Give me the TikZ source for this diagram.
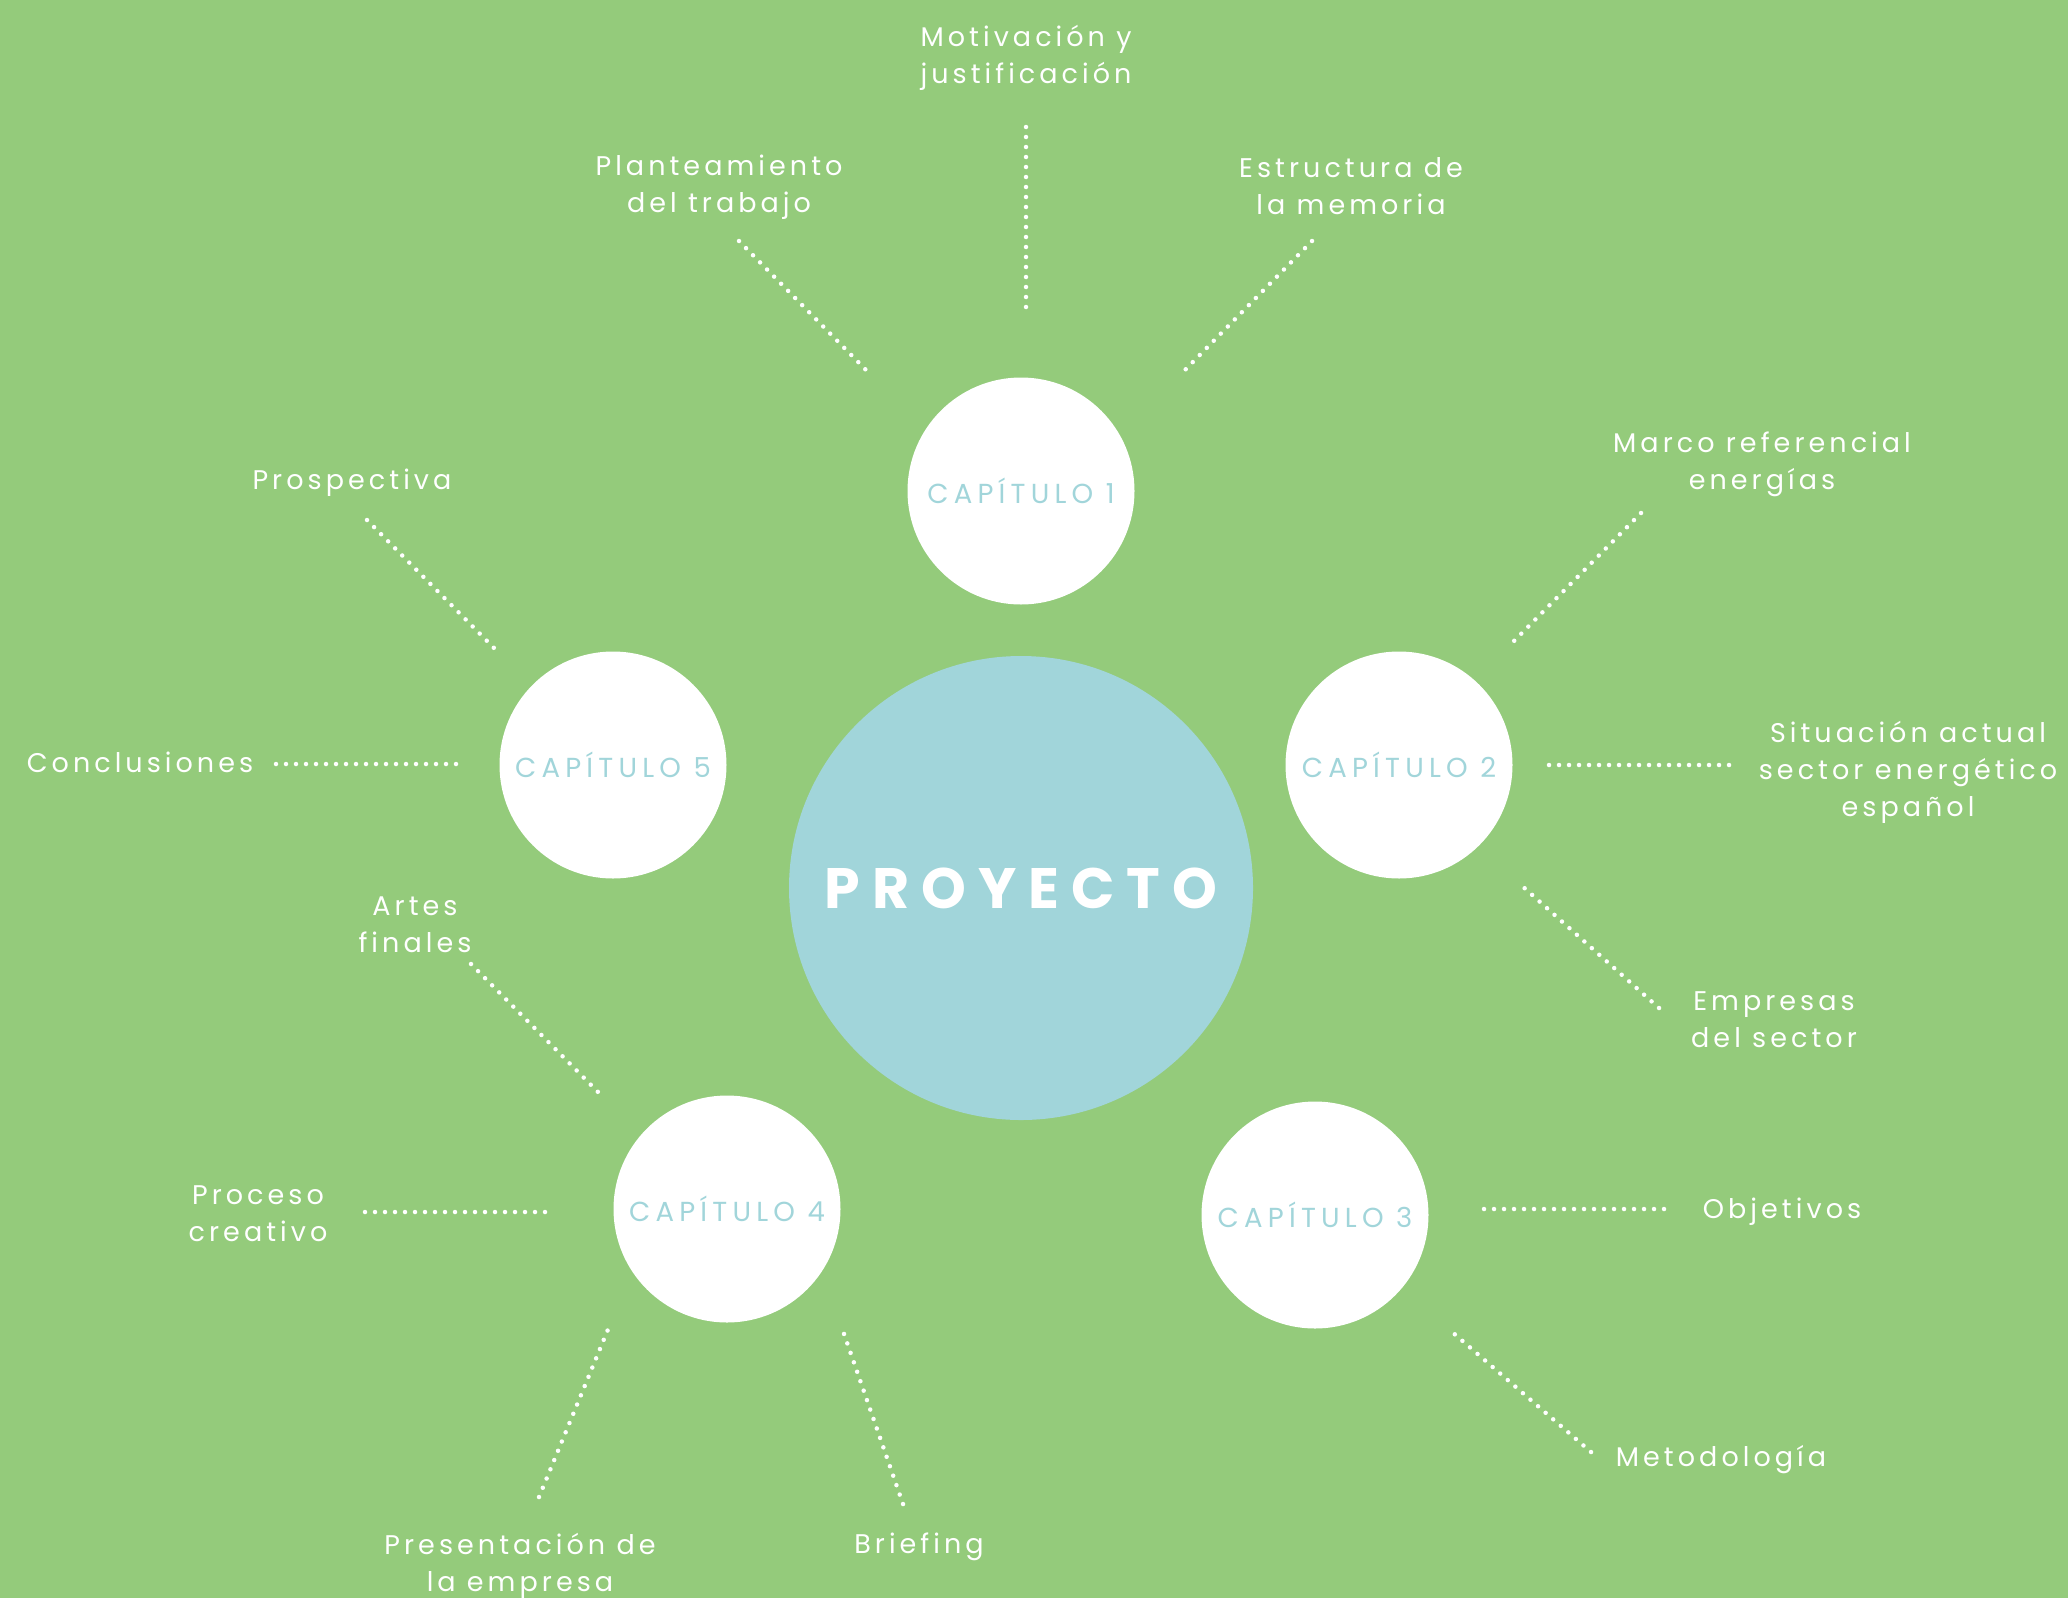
\documentclass[tikz,border=0pt]{standalone}
\usepackage{fontspec}
\setmainfont{Poppins}[LetterSpace=15]
\definecolor{fondo}{HTML}{94CB7B}
\definecolor{celeste}{HTML}{A1D5DA}
\tikzset{capitulo/.style={shape=circle,fill=white,minimum size=227pt,inner sep=0pt,
		text=celeste,font=\fontsize{27.5}{30}\selectfont\addfontfeatures{LetterSpace=19}},
	tema/.style={align=center,text=white,font=\fontsize{27}{37}\selectfont},
	puntos/.style={draw=white,line width=4.5pt,line cap=round,dash pattern=on 0pt off 10pt}}

\begin{document}
\begin{tikzpicture}[x=1pt,y=-1pt]
				      \useasboundingbox (0,0) rectangle (2068,1598);
				      \fill[fondo] (0,0) rectangle (2068,1598);
				      \node[shape=circle,fill=celeste,minimum size=464pt,inner sep=0pt,text=white,
				        font=\fontsize{57}{60}\selectfont\bfseries\addfontfeatures{LetterSpace=21}] (P) at (1021,888) {PROYECTO};

				      \node[capitulo] (C1) at (1021,491) {CAPÍTULO 1};
				      \node[capitulo] (C2) at (1399,765) {CAPÍTULO 2};
				      \node[capitulo] (C3) at (1315,1215) {CAPÍTULO 3};
				      \node[capitulo] (C4) at (727,1209) {CAPÍTULO 4};
				      \node[capitulo] (C5) at (613,765) {CAPÍTULO 5};

				      \node[tema] (T1a) at (1026,58) {Motivación y\\justificación};
				      \node[tema] (T1b) at (719,187) {Planteamiento\\del trabajo};
				      \node[tema] (T1c) at (1351,186) {Estructura de\\la memoria};
				      \node[tema] (T2a) at (1762,464) {Marco referencial\\energías};
				      \node[tema] (T2b) at (1908,772) {Situación actual\\sector energético\\español};
				      \node[tema] (T2c) at (1774,1020) {Empresas\\del sector};
				      \node[tema] (T3a) at (1782,1212) {Objetivos};
				      \node[tema] (T3b) at (1721,1460) {Metodología};
				      \node[tema] (T4a) at (919,1547) {Briefing};
				      \node[tema] (T4b) at (520,1566) {Presentación de\\la empresa};
				      \node[tema] (T4c) at (258,1214) {Proceso\\creativo};
				      \node[tema] (T4d) at (415,925) {Artes\\finales};
				      \node[tema] (T5a) at (140,762) {Conclusiones};
				      \node[tema] (T5b) at (352,483) {Prospectiva};

				      % extremos de las lineas de puntos
				      \coordinate (L1a) at (1026,127);  \coordinate (M1a) at (1026,310);
				      \coordinate (L1b) at (739,241);   \coordinate (M1b) at (868,372);
				      \coordinate (L1c) at (1312,241);  \coordinate (M1c) at (1183,372);
				      \coordinate (L2a) at (1641,513);  \coordinate (M2a) at (1511,644);
				      \coordinate (L2b) at (1729,765);  \coordinate (M2b) at (1544,765);
				      \coordinate (L2c) at (1659,1008); \coordinate (M2c) at (1521,885);
				      \coordinate (L3a) at (1664,1209); \coordinate (M3a) at (1480,1209);
				      \coordinate (L3b) at (1591,1452); \coordinate (M3b) at (1451,1331);
				      \coordinate (L4a) at (903,1504);  \coordinate (M4a) at (843,1331);
				      \coordinate (L4b) at (539,1497);  \coordinate (M4b) at (609,1327);
				      \coordinate (L4c) at (365,1212);  \coordinate (M4c) at (549,1212);
				      \coordinate (L4d) at (471,964);   \coordinate (M4d) at (601,1095);
				      \coordinate (L5a) at (276,764);   \coordinate (M5a) at (459,764);
				      \coordinate (L5b) at (367,520);   \coordinate (M5b) at (496,650);

				      \foreach \i in {1a,1b,1c,2a,2b,2c,3a,3b,4a,4b,4c,4d,5a,5b}
				        \path[puntos] (L\i) -- (M\i);
			      \end{tikzpicture}
\end{document}
